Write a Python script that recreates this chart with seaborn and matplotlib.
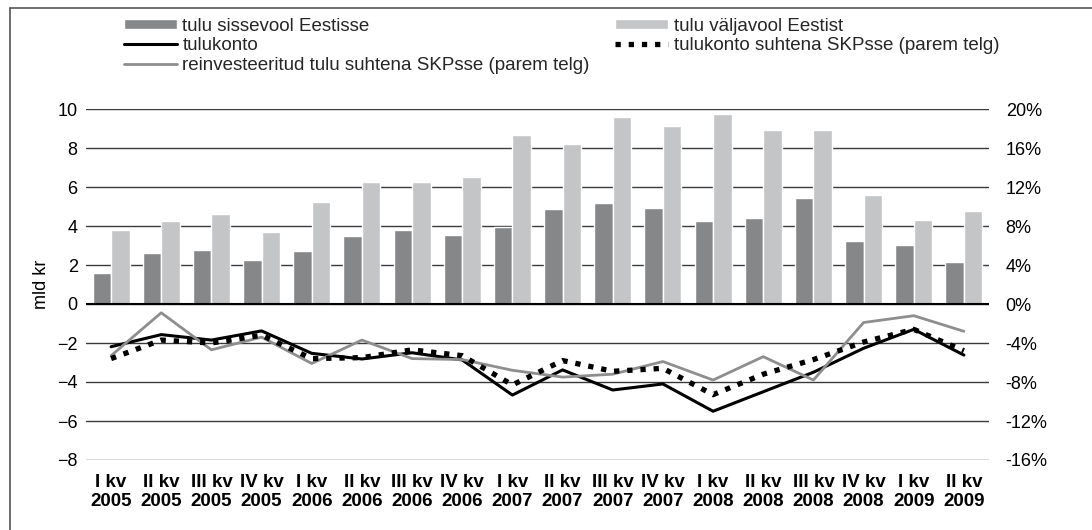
import numpy as np
import pandas as pd
import seaborn as sns
import matplotlib.pyplot as plt
from matplotlib.lines import Line2D
from matplotlib.patches import Patch

# kvartalid
kvartalid = ["I kv\n2005", "II kv\n2005", "III kv\n2005", "IV kv\n2005",
             "I kv\n2006", "II kv\n2006", "III kv\n2006", "IV kv\n2006",
             "I kv\n2007", "II kv\n2007", "III kv\n2007", "IV kv\n2007",
             "I kv\n2008", "II kv\n2008", "III kv\n2008", "IV kv\n2008",
             "I kv\n2009", "II kv\n2009"]

# mld kr (vasak telg)
sissevool = [1.6, 2.6, 2.77, 2.26, 2.72, 3.48, 3.79, 3.53, 3.97,
             4.87, 5.18, 4.92, 4.26, 4.41, 5.44, 3.23, 3.03, 2.15]
valjavool = [3.8, 4.25, 4.62, 3.69, 5.23, 6.26, 6.26, 6.52, 8.67,
             8.2, 9.59, 9.13, 9.74, 8.92, 8.92, 5.59, 4.3, 4.77]
tulukonto = [-2.19, -1.57, -1.85, -1.38, -2.53, -2.82, -2.5, -2.87, -4.67,
             -3.38, -4.41, -4.1, -5.5, -4.5, -3.5, -2.27, -1.3, -2.62]

# % SKPst (parem telg)
tulukonto_skp = [-5.6, -3.7, -4.0, -3.2, -5.6, -5.5, -4.7, -5.3, -8.3,
                 -5.8, -6.9, -6.6, -9.3, -7.2, -5.7, -3.9, -2.6, -4.8]
reinvest_skp = [-5.3, -0.9, -4.7, -3.4, -6.1, -3.7, -5.6, -5.7, -6.8,
                -7.5, -7.2, -5.9, -7.8, -5.4, -7.8, -1.9, -1.2, -2.8]

TUME = "#868788"
HELE = "#c4c5c7"
HALL = "#8e8e8e"

sns.set_theme(style="white")
plt.rcParams["font.family"] = ["Liberation Sans", "DejaVu Sans"]

fig = plt.figure(figsize=(10.92, 5.30), dpi=100)
ax = fig.add_axes([86/1092, 70/530, 903/1092, 351/530])

df = pd.DataFrame({
    "kvartal": kvartalid * 2,
    "vaartus": sissevool + valjavool,
    "seeria": ["tulu sissevool Eestisse"] * len(kvartalid) + ["tulu väljavool Eestist"] * len(kvartalid),
})
sns.barplot(data=df, x="kvartal", y="vaartus", hue="seeria",
            palette=[TUME, HELE], saturation=1, width=0.74,
            ax=ax, legend=False, zorder=2)

pos = np.arange(len(kvartalid))
sns.lineplot(x=pos, y=tulukonto, ax=ax, color="black", lw=2.2, zorder=4)

ax2 = ax.twinx()
sns.lineplot(x=pos, y=reinvest_skp, ax=ax2, color=HALL, lw=2)
sns.lineplot(x=pos, y=tulukonto_skp, ax=ax2, color="black", lw=3.8,
             linestyle=(0, (1.0, 1.5)), dash_capstyle="butt")

ax.set_xlim(-0.5, len(kvartalid) - 0.5)
ax.set_ylim(-8, 10)
ax2.set_ylim(-16, 20)
ax.set_yticks(range(-8, 11, 2))
ax2.set_yticks(range(-16, 21, 4))
ax2.set_yticklabels([f"{v}%" for v in range(-16, 21, 4)])

ax.yaxis.grid(True, color="#3a3a3a", lw=1)
ax.set_axisbelow(True)
ax.axhline(0, color="black", lw=1.5, zorder=3)

for a in (ax, ax2):
    for s in a.spines.values():
        s.set_visible(False)
    a.tick_params(length=0, labelsize=13, colors="black")
ax.tick_params(axis="y", pad=6)
ax.tick_params(axis="x", pad=10, labelsize=13.5)
ax2.tick_params(axis="y", pad=12)
ax2.set_ylabel("")
ax.set_xlabel("")
for t in ax.get_xticklabels():
    t.set_fontweight("bold")
ax.set_ylabel("mld kr", fontsize=13, color="black", labelpad=5)

# legendid
h_in = Patch(facecolor=TUME)
h_out = Patch(facecolor=HELE)
h_tk = Line2D([], [], color="black", lw=2.2)
h_tks = Line2D([], [], color="black", lw=3.8, linestyle=(0, (1.0, 1.5)), dash_capstyle="butt")
h_re = Line2D([], [], color=HALL, lw=2)

leg_kw = dict(loc="upper left", frameon=False, borderpad=0, borderaxespad=0,
              handlelength=2.8, handletextpad=0.32, labelspacing=0.12,
              fontsize=13.5, handleheight=0.45)
leg1 = fig.legend([h_in, h_tk, h_re],
                  ["tulu sissevool Eestisse", "tulukonto",
                   "reinvesteeritud tulu suhtena SKPsse (parem telg)"],
                  bbox_to_anchor=(124/1092, 1 - 18/530), **leg_kw)
leg2 = fig.legend([h_out, h_tks],
                  ["tulu väljavool Eestist", "tulukonto suhtena SKPsse (parem telg)"],
                  bbox_to_anchor=(615/1092, 1 - 18/530), **leg_kw)

# raam
fig.add_artist(Line2D([10/1092, 1], [1 - 8/530, 1 - 8/530], transform=fig.transFigure, color="#555555", lw=1.2))
fig.add_artist(Line2D([10/1092, 10/1092], [0, 1 - 8/530], transform=fig.transFigure, color="#555555", lw=1.2))

fig.savefig("out.png", dpi=100)
